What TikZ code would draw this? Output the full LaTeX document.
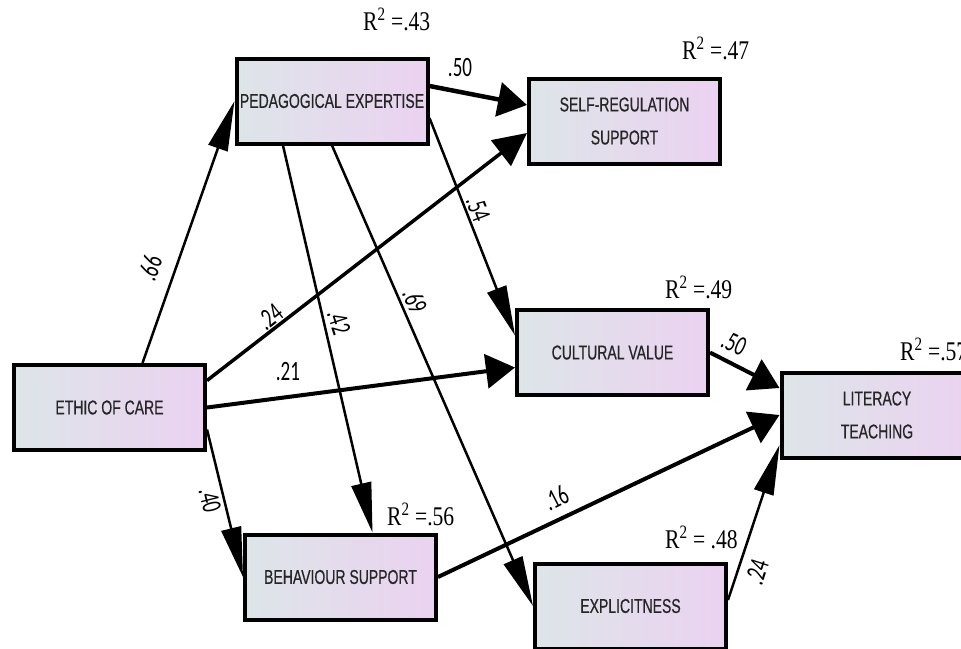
\documentclass[tikz,border=0pt]{standalone}
\usepackage{fontspec}
\newfontfamily\boxfont[FakeStretch=0.7,FakeBold=0.6]{Liberation Sans}
\newfontfamily\coeffont[FakeStretch=0.68]{Carlito}
\newfontfamily\rsqfont[FakeStretch=0.8]{Liberation Serif}
\usetikzlibrary{arrows.meta}
\definecolor{boxleft}{HTML}{DDE5E8}
\definecolor{boxright}{HTML}{EBD2F1}

\begin{document}
\begin{tikzpicture}[x=1pt,y=-1pt,
    box/.style={draw,line width=4pt,minimum width=191pt,minimum height=85pt,inner sep=0pt,
        left color=boxleft,right color=boxright,text=black!85,align=center,
        font={\boxfont\fontsize{20pt}{33pt}\selectfont}},
    flat/.style={line width=4pt,-{Triangle[length=29pt,width=34pt]}},
    mid/.style={line width=3.5pt,-{Triangle[length=33pt,width=32pt]}},
    steep/.style={line width=2.5pt,-{Triangle[length=50pt,width=20pt]}},
    coef/.style={inner sep=0pt,font={\coeffont\fontsize{28pt}{30pt}\selectfont}},
    rsq/.style={inner sep=0pt,anchor=base west,font={\rsqfont\fontsize{27pt}{30pt}\selectfont}}]

    \path[use as bounding box,fill=white] (0,0) rectangle (961,648);

    % boxes
    \node[box] (E) at (109.5,407.5) {ETHIC OF CARE};
    \node[box] (P) at (332,101) {PEDAGOGICAL EXPERTISE};
    \node[box] (S) at (624.5,121) {SELF-REGULATION\\SUPPORT};
    \node[box] (C) at (612.5,352.5) {CULTURAL VALUE};
    \node[box] (L) at (877,415) {LITERACY\\TEACHING};
    \node[box] (B) at (340.5,577) {BEHAVIOUR SUPPORT};
    \node[box] (X) at (630.5,606) {EXPLICITNESS};

    % R squared
    \node[rsq] (R1) at (363,30) {R\textsuperscript{2} =.43};
    \node[rsq] (R2) at (682,59) {R\textsuperscript{2} =.47};
    \node[rsq] (R3) at (665,298) {R\textsuperscript{2} =.49};
    \node[rsq] (R4) at (900,360) {R\textsuperscript{2} =.57};
    \node[rsq] (R5) at (387,525) {R\textsuperscript{2} =.56};
    \node[rsq] (R6) at (665,548) {R\textsuperscript{2} = .48};

    % paths
    \draw[steep] ([xshift=33pt]E.north) -- (P.west);
    \draw[mid] ([yshift=27pt]E.east) -- ([yshift=-12pt]S.west);
    \draw[flat] (E.east) -- ([yshift=-15pt]C.west);
    \draw[steep] ([yshift=-22pt]E.east) -- (B.west);
    \draw[steep] ([xshift=-49pt]P.south) -- ([xshift=32pt]B.north);
    \draw[steep] (P.south) -- (X.west);
    \draw[steep] ([yshift=-17pt]P.east) -- ([yshift=17pt]C.west);
    \draw[flat,line width=4.5pt] ([yshift=15pt]P.east) -- ([yshift=16pt]S.west);
    \draw[flat] (C.east) -- ([yshift=27pt]L.west);
    \draw[flat] (B.east) -- (L.west);
    \draw[steep] ([yshift=6pt]X.east) -- ([yshift=-30pt]L.west);

    % coefficients
    \node[coef,rotate=70] (K1) at (150,268) {.66};
    \node[coef,rotate=38] (K2) at (270,317) {.24};
    \node[coef] (K3) at (288,372) {.21};
    \node[coef,rotate=-76] (K4) at (210,500) {.40};
    \node[coef,rotate=-72] (K5) at (339,322) {.42};
    \node[coef,rotate=-66] (K6) at (415,301) {.69};
    \node[coef,rotate=-69] (K7) at (478,209) {.54};
    \node[coef] (K8) at (460,68) {.50};
    \node[coef,rotate=-25] (K9) at (734,343) {.50};
    \node[coef,rotate=27] (K10) at (556,498) {.16};
    \node[coef,rotate=72] (K11) at (757,572) {.24};

\end{tikzpicture}
\end{document}
